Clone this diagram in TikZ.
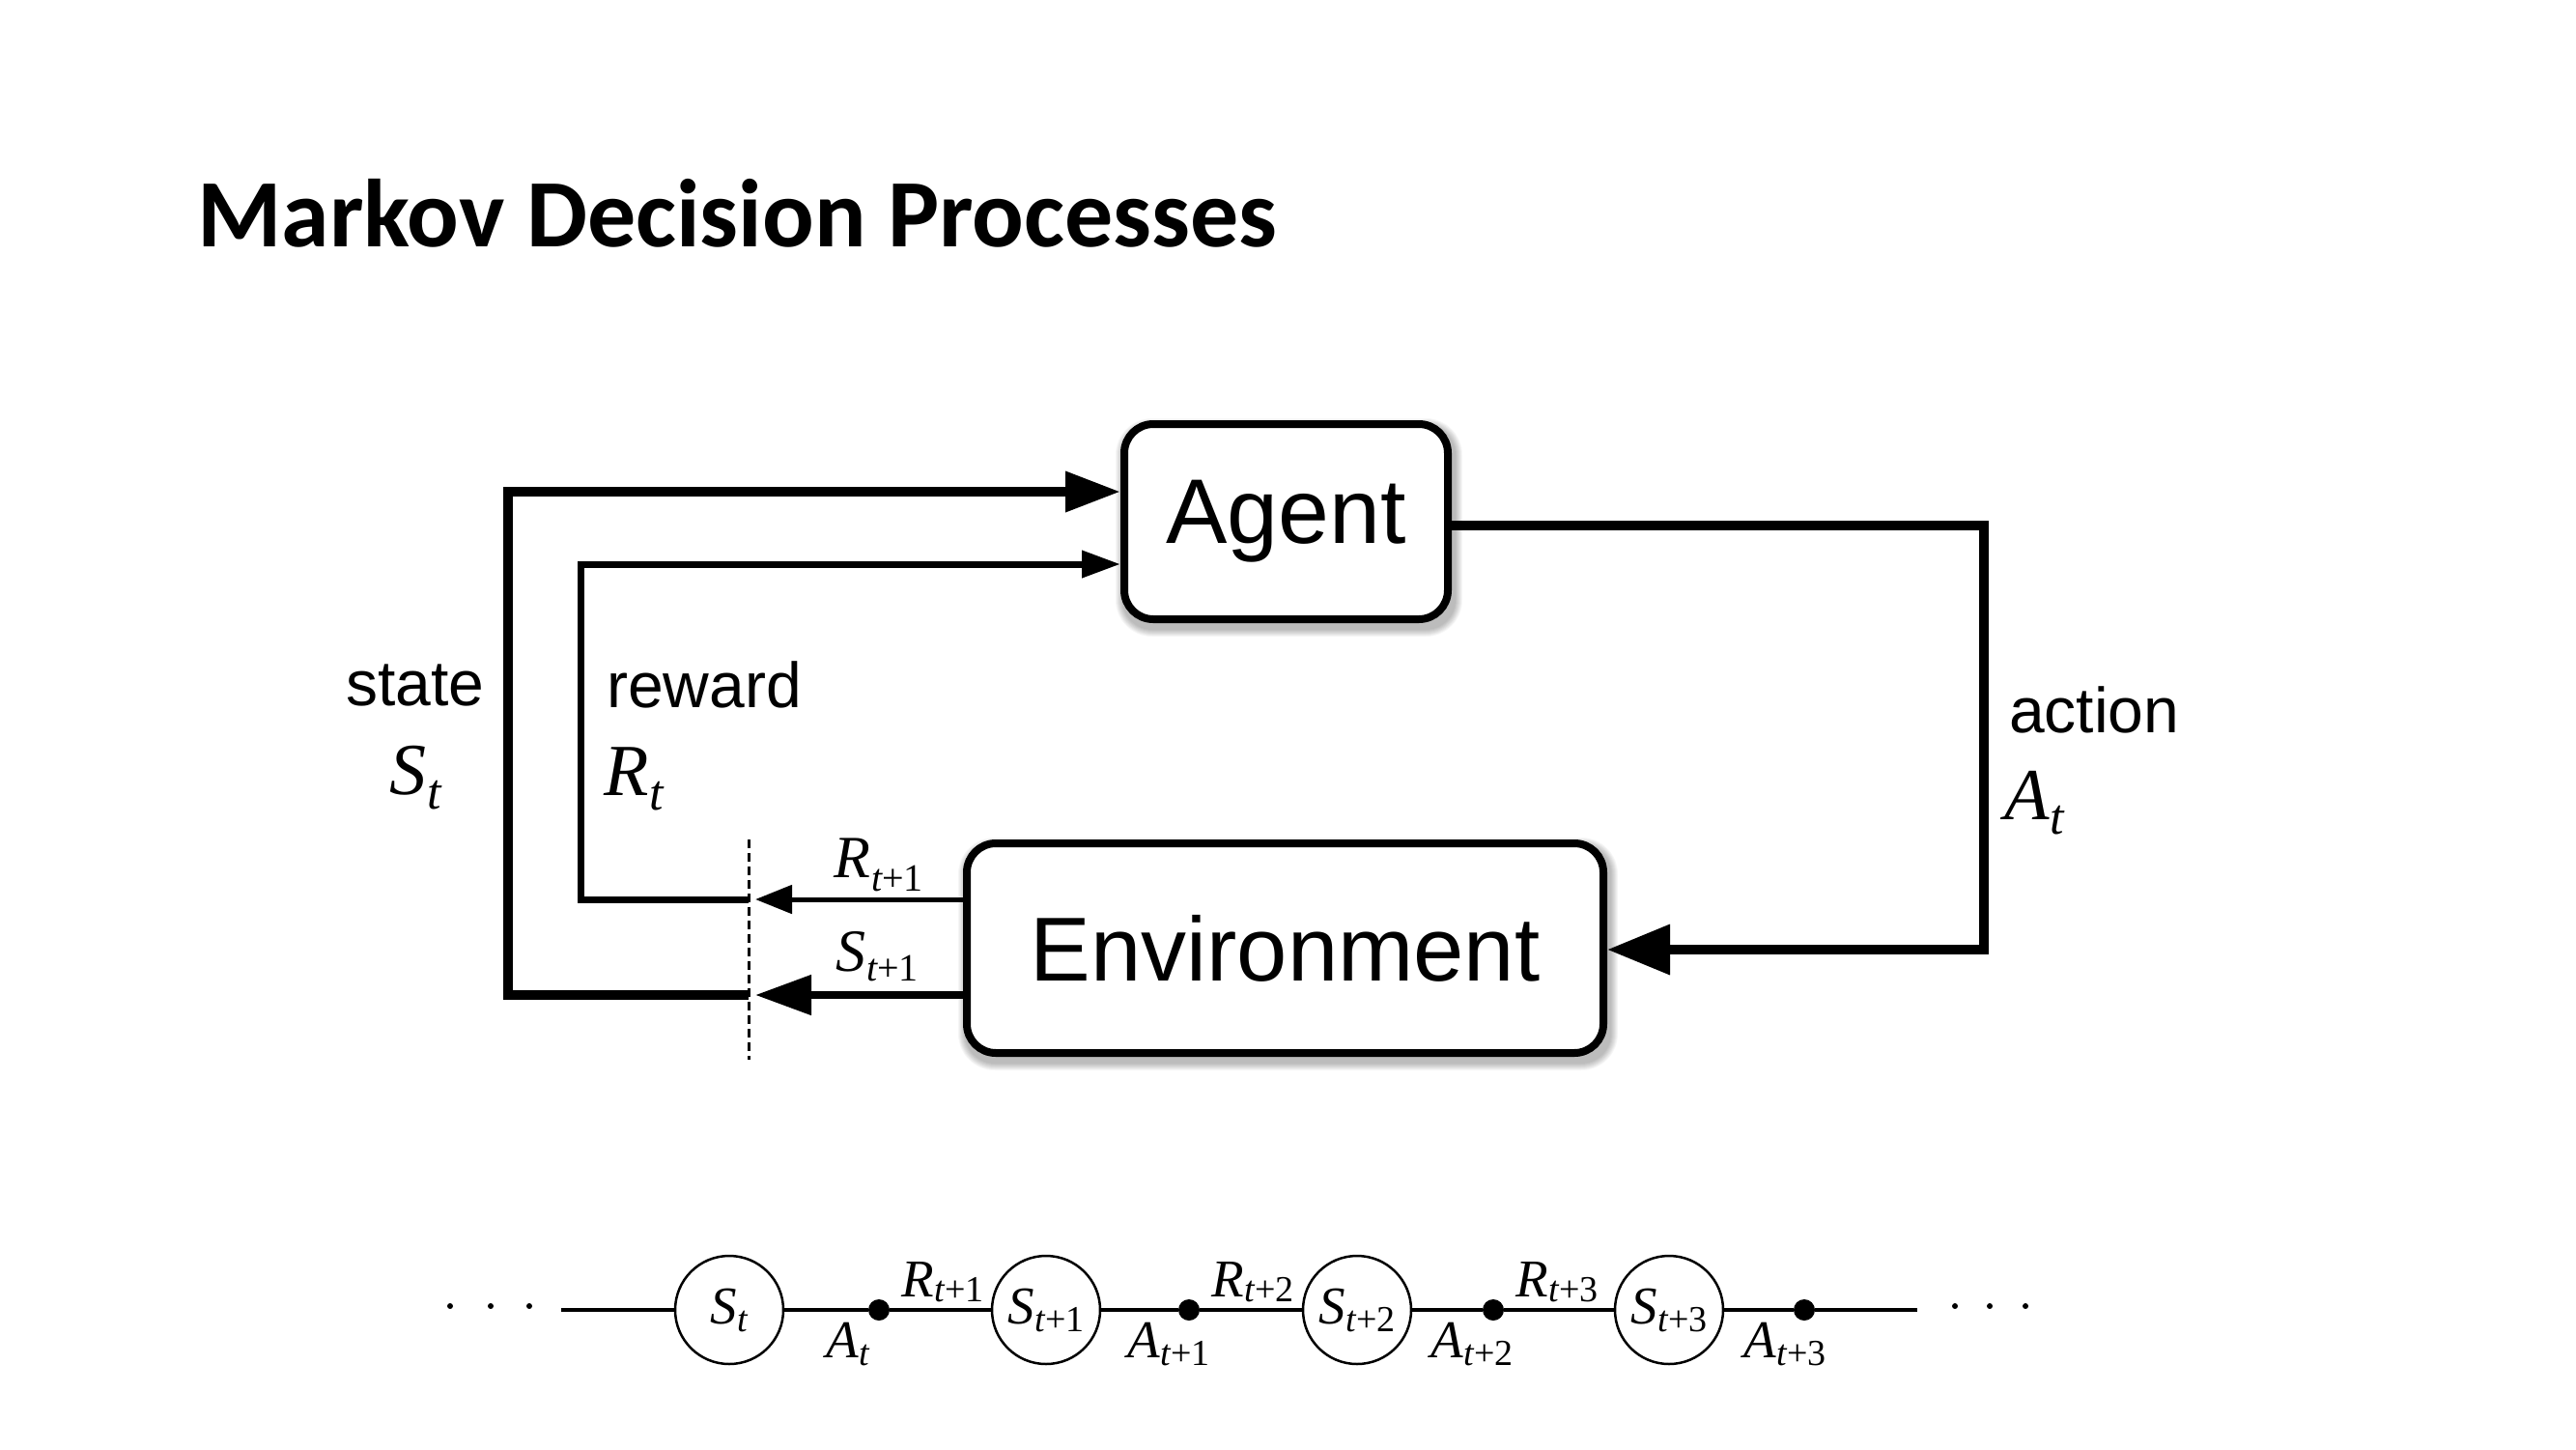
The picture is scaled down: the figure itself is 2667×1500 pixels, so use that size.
\documentclass[tikz,border=0pt]{standalone}
\usepackage{fontspec}
\usetikzlibrary{arrows.meta,backgrounds}
\newfontfamily\titlefont{Carlito}
\newfontfamily\hel{Liberation Sans}
\newfontfamily\tms{Liberation Serif}
\newcommand{\fs}[1]{\fontsize{#1pt}{#1pt}\selectfont}
\newcommand{\ml}[5]{{\tms\fs{#1}\itshape #4}\kern1pt{\tms\fs{#2}\raisebox{-#3pt}{#5}}}
\newcommand{\ti}{{\itshape t}}
\begin{document}
\begin{tikzpicture}[x=1pt,y=-1pt,
  box/.style={draw, line width=8pt, rounded corners=30pt, fill=white, inner sep=0pt},
  word/.style={inner sep=0pt, anchor=base west},
  statec/.style={circle, draw, line width=2.5pt, fill=white, minimum size=112pt, inner sep=0pt},
  actdot/.style={circle, fill=black, minimum size=22pt, inner sep=0pt},
  tinydot/.style={circle, fill=black, minimum size=6pt, inner sep=0pt},
  chain/.style={line width=4pt}]
\useasboundingbox (0,0) rectangle (2667,1500);

% title
\node[word] (title) at (204,255) {\titlefont\bfseries\fs{100}Markov Decision Processes};

% boxes
\node[box, minimum width=335pt, minimum height=202pt] (agent) at (1331.5,540) {\hel\fs{95}Agent};
\node[box, minimum width=659pt, minimum height=217pt] (env) at (1330.5,981.5) {\hel\fs{94}Environment};

% shadows
\begin{scope}[on background layer]
\fill[white] (0,0) rectangle (2667,1500);
\foreach \k in {1,...,8} {
  \pgfmathsetmacro\rc{30+\k}
  \fill[black, opacity=0.035, rounded corners=\rc pt]
    ([shift={(3-\k,6-\k)}]agent.north west) rectangle ([shift={(3+\k,6+\k)}]agent.south east);
  \fill[black, opacity=0.035, rounded corners=\rc pt]
    ([shift={(3-\k,6-\k)}]env.north west) rectangle ([shift={(3+\k,6+\k)}]env.south east);
}
\end{scope}

% coordinates
\coordinate (ds) at (775,1030);
\coordinate (dr) at (775,931);
\coordinate (dst) at (782,1030);
\coordinate (drt) at (782,931);
\coordinate (sc1) at (526,1030);
\coordinate (sc2) at (526,509);
\coordinate (rc1) at (601,931);
\coordinate (rc2) at (601,584);
\coordinate (ac1) at (2054,544);
\coordinate (ac2) at (2054,983);
\coordinate (dtop) at (775,869);
\coordinate (dbot) at (775,1097);

% connectors
\draw[line width=10pt, -{Triangle[length=57pt,width=40pt]}] (ds) -- (sc1) -- (sc2) -- (sc2 -| agent.west);
\draw[line width=7pt, -{Triangle[length=40pt,width=27pt]}] (dr) -- (rc1) -- (rc2) -- (rc2 -| agent.west);
\draw[line width=5pt, -{Triangle[length=38pt,width=29pt]}] (env.west |- dr) -- (drt);
\draw[line width=8pt, -{Triangle[length=58pt,width=40pt]}] (env.west |- ds) -- (dst);
\draw[line width=10pt, -{Triangle[length=65pt,width=50pt]}] (ac1 -| agent.east) -- (ac1) -- (ac2) -- (ac2 -| env.east);
\draw[line width=3pt, dash pattern=on 9pt off 5pt] (dtop) -- (dbot);

% labels
\node[word] (lstate) at (358,730) {\hel\fs{66}state};
\node[word] (lSt) at (403,822) {\ml{76}{52}{15}{S}{\ti}};
\node[word] (lreward) at (628,732) {\hel\fs{66}reward};
\node[word] (lRt) at (625,823) {\ml{76}{52}{15}{R}{\ti}};
\node[word] (laction) at (2080,758) {\hel\fs{66}action};
\node[word] (lAt) at (2075,848) {\ml{76}{52}{15}{A}{\ti}};
\node[word] (lR1) at (863,908) {\ml{62}{40}{14}{R}{\ti+1}};
\node[word] (lS1) at (865,1005) {\ml{62}{40}{10}{S}{\ti+1}};

% bottom chain
\coordinate (cl) at (581,1356);
\coordinate (cr) at (1985,1356);
\node[statec] (s0) at (755,1356) {\ml{55}{38}{8}{S}{\ti}};
\node[statec] (s1) at (1083,1356) {\ml{55}{38}{8}{S}{\ti+1}};
\node[statec] (s2) at (1405,1356) {\ml{55}{38}{8}{S}{\ti+2}};
\node[statec] (s3) at (1728,1356) {\ml{55}{38}{8}{S}{\ti+3}};
\node[actdot] (a0) at (910,1356) {};
\node[actdot] (a1) at (1231,1356) {};
\node[actdot] (a2) at (1546,1356) {};
\node[actdot] (a3) at (1868,1356) {};
\draw[chain] (cl) -- (s0) -- (a0) -- (s1) -- (a1) -- (s2) -- (a2) -- (s3) -- (a3) -- (cr);

\node[tinydot] (ld1) at (466,1352) {};
\node[tinydot] (ld2) at (508,1352) {};
\node[tinydot] (ld3) at (548,1352) {};
\node[tinydot] (rd1) at (2024,1352) {};
\node[tinydot] (rd2) at (2060,1352) {};
\node[tinydot] (rd3) at (2097,1352) {};

\node[word] (bR1) at (933,1342) {\ml{55}{38}{5}{R}{\ti+1}};
\node[word] (bR2) at (1254,1342) {\ml{55}{38}{5}{R}{\ti+2}};
\node[word] (bR3) at (1569,1342) {\ml{55}{38}{5}{R}{\ti+3}};
\node[word] (bA0) at (855,1405) {\ml{55}{38}{8}{A}{\ti}};
\node[word] (bA1) at (1167,1405) {\ml{55}{38}{8}{A}{\ti+1}};
\node[word] (bA2) at (1481,1405) {\ml{55}{38}{8}{A}{\ti+2}};
\node[word] (bA3) at (1805,1405) {\ml{55}{38}{8}{A}{\ti+3}};
\end{tikzpicture}
\end{document}
